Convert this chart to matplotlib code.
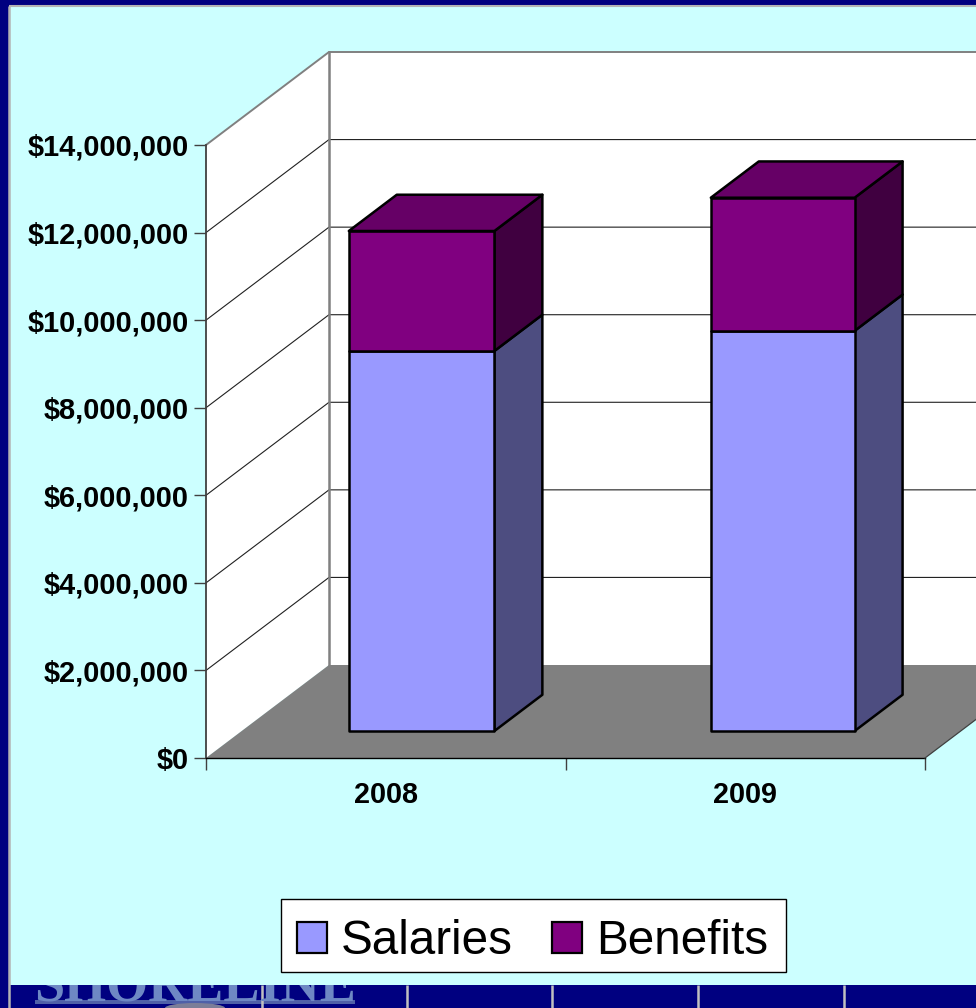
import matplotlib
matplotlib.use("Agg")
import matplotlib.pyplot as plt
from matplotlib.patches import Ellipse, Polygon, Rectangle

plt.rcParams['font.family'] = ['Liberation Sans', 'DejaVu Sans']

years = ["2008", "2009"]
salaries = [8680000, 9140000]
benefits = [2740000, 3040000]
y_ticks = [0, 2000000, 4000000, 6000000, 8000000, 10000000, 12000000, 14000000]

NAVY = "#000080"
PANEL = "#CCFFFF"
SALARY = "#9999FF"
SALARY_SIDE = "#4D4D80"
BENEFIT = "#800080"
BENEFIT_TOP = "#660066"
BENEFIT_SIDE = "#400040"

W, H = 976, 1008
fig = plt.figure(figsize=(W / 100, H / 100), dpi=100, facecolor=NAVY)

# full figure overlay in pixel coords for the slide furniture
bg = fig.add_axes([0, 0, 1, 1], zorder=0)
bg.set_xlim(0, W)
bg.set_ylim(H, 0)
bg.axis("off")
bg.add_patch(Rectangle((9, 7), W, 978, facecolor=PANEL, edgecolor="none"))
bg.plot([9, 9], [H, 6], color="#B4B4B4", lw=1.8, solid_capstyle="butt")
bg.plot([9, W], [6, 6], color="#B4B4B4", lw=1.5, solid_capstyle="butt")

# navigation strip under the panel, the logo runs off its top edge
nav = fig.add_axes([0, 0, 1, (H - 985) / H], zorder=1)
nav.set_xlim(0, W)
nav.set_ylim(H, 985)
nav.axis("off")
nav.add_patch(Rectangle((35, 1000), 320, 4, facecolor="#4F60A8", edgecolor="none"))
nav.add_patch(Ellipse((195, 1008), 60, 10, facecolor="#7C7E98", edgecolor="none"))
nav.text(195, 1000, "SHORELINE", color="#6E88C4", fontsize=39, fontweight="bold", ha="center",
         va="baseline", fontfamily="Liberation Serif", clip_on=True)
for sx in [262, 407, 552, 698, 844]:
    nav.plot([sx, sx], [985, H], color="#C0C0C0", lw=1.8, solid_capstyle="butt")

# value/category axes: x is in categories, y in dollars
ax = fig.add_axes([206 / W, 1 - 758 / H, (925 - 206) / W, (758 - 145) / H], zorder=2)
ax.set_xlim(0, 2)
ax.set_ylim(0, 14000000)
ax.patch.set_alpha(0)
for s in ax.spines.values():
    s.set_visible(False)

# oblique offset of the chart's depth
depth_x = 123 / 359.5
depth_y = 93 / 613 * 14000000


def proj(x, y, d):
    return (x + depth_x * d, y + depth_y * d)


def face(points, **kw):
    p = Polygon(points, closed=True, clip_on=False, **kw)
    ax.add_patch(p)
    return p


def path(points, **kw):
    ax.plot([p[0] for p in points], [p[1] for p in points], clip_on=False, **kw)


right = 3.0
top = y_ticks[-1]

# walls and floor
face([proj(0, 0, 1), proj(right, 0, 1), proj(right, top, 1), proj(0, top, 1)],
     facecolor="white", edgecolor="none", zorder=1)
face([proj(0, 0, 0), proj(0, 0, 1), proj(0, top, 1), proj(0, top, 0)],
     facecolor="white", edgecolor="none", zorder=1)
face([proj(0, 0, 0), proj(2, 0, 0), proj(2, 0, 1), proj(0, 0, 1)],
     facecolor="#808080", edgecolor="none", zorder=2)

# gridlines running along the side wall and across the back wall
for v in y_ticks[1:-1]:
    path([proj(0, v, 0), proj(0, v, 1), proj(right, v, 1)], color="#202020", lw=0.8, zorder=3)

# wall outlines
path([proj(0, top, 0), proj(0, top, 1), proj(right, top, 1)], color="#808080", lw=1.4, zorder=3)
path([proj(0, 0, 1), proj(0, top, 1)], color="#808080", lw=1.8, zorder=3)
path([proj(0, 0, 0), proj(0, top, 0)], color="#404040", lw=1.3, zorder=4)
path([proj(0, 0, 0), proj(2, 0, 0)], color="black", lw=1.0, zorder=4)
path([proj(2, 0, 0), proj(2, 0, 1)], color="#404040", lw=0.9, zorder=4)

# stacked 3d columns
d0, d1 = 0.29, 0.68
for i, (sal, ben) in enumerate(zip(salaries, benefits)):
    x0 = i + 0.298 + 0.007 * i
    x1 = x0 + 0.405 - 0.005 * i
    stack = [(0, sal, SALARY, SALARY_SIDE), (sal, sal + ben, BENEFIT, BENEFIT_SIDE)]
    for low, high, col, side in stack:
        face([proj(x1, low, d0), proj(x1, low, d1), proj(x1, high, d1), proj(x1, high, d0)],
             facecolor=side, edgecolor="black", lw=1.8, zorder=5, joinstyle="round")
        face([proj(x0, low, d0), proj(x1, low, d0), proj(x1, high, d0), proj(x0, high, d0)],
             facecolor=col, edgecolor="black", lw=1.8, zorder=6, joinstyle="round")
    high = sal + ben
    face([proj(x0, high, d0), proj(x1, high, d0), proj(x1, high, d1), proj(x0, high, d1)],
         facecolor=BENEFIT_TOP, edgecolor="black", lw=1.8, zorder=6, joinstyle="round")

ax.set_yticks(y_ticks)
ax.set_yticklabels(["${:,}".format(v) for v in y_ticks], fontsize=20.9, fontweight="bold")
ax.set_xticks([0, 1, 2])
ax.set_xticklabels([])
ax.tick_params(axis="y", length=8.6, width=1.0, color="#404040", pad=3.6)
ax.tick_params(axis="x", length=8.6, width=1.0, color="#404040")
for i in range(2):
    ax.text(i + 0.5, -850000, years[i], ha="center", va="center", fontsize=20.7, fontweight="bold", zorder=6)

# legend box
ov = fig.add_axes([0, 0, 1, 1], zorder=3)
ov.set_xlim(0, W)
ov.set_ylim(H, 0)
ov.axis("off")
ov.add_patch(Rectangle((281, 899), 505, 73, facecolor="white", edgecolor="black", lw=1.0))
ov.add_patch(Rectangle((297, 922), 30, 31, facecolor=SALARY, edgecolor="black", lw=1.6))
ov.add_patch(Rectangle((552, 922), 30, 31, facecolor=BENEFIT, edgecolor="black", lw=1.6))
ov.text(341, 937, "Salaries", fontsize=34.3, ha="left", va="center_baseline")
ov.text(596, 937, "Benefits", fontsize=34.3, ha="left", va="center_baseline")

fig.savefig("out.png", dpi=100, facecolor=fig.get_facecolor())
